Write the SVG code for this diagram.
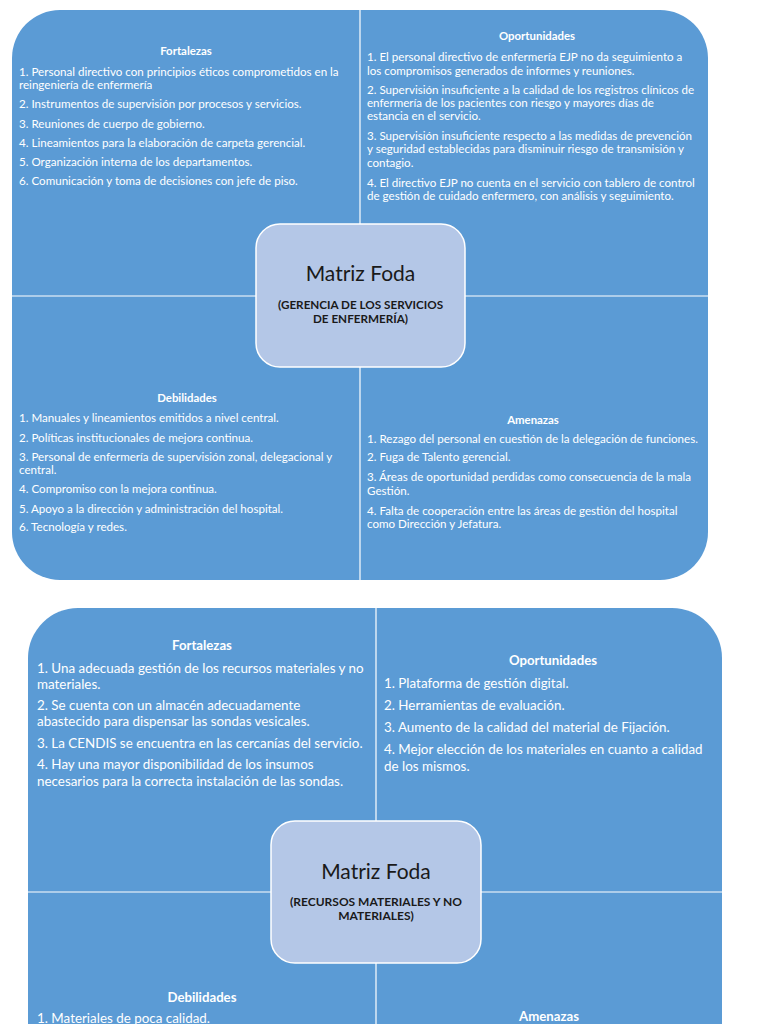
<svg xmlns="http://www.w3.org/2000/svg" width="768" height="1024" viewBox="0 0 768 1024">
<style>
.q{fill:#5B9BD5}
.div{stroke:#FFFFFF;stroke-width:1.2;fill:none}
.cb{fill:#B4C7E7;stroke:#FFFFFF;stroke-width:1.5}
.t1{font-family:Lato,"Open Sans",sans-serif;font-size:11.6px;fill:#FFFFFF}
.h1{font-family:Lato,"Open Sans",sans-serif;font-size:11.4px;font-weight:bold;fill:#FFFFFF;text-anchor:middle}
.t2{font-family:Lato,"Open Sans",sans-serif;font-size:13.4px;fill:#FFFFFF}
.h2{font-family:Lato,"Open Sans",sans-serif;font-size:13.2px;font-weight:bold;fill:#FFFFFF;text-anchor:middle}
.mt{font-family:Lato,"Open Sans",sans-serif;font-size:21px;fill:#1A1A1A;text-anchor:middle}
.ms{font-family:Lato,"Open Sans",sans-serif;font-size:11.7px;font-weight:bold;fill:#1A1A1A;text-anchor:middle}
.ms2{font-family:Lato,"Open Sans",sans-serif;font-size:12px;font-weight:bold;fill:#1A1A1A;text-anchor:middle}
</style>
<rect width="768" height="1024" fill="#FFFFFF"/>

<!-- Matrix 1 -->
<g id="m1-fortalezas">
<path class="q" d="M360,10 H60 A48,48 0 0 0 12,58 V296 H360 Z"/>
<text class="h1" x="186" y="55">Fortalezas</text>
<text class="t1" x="19" y="75.5">1. Personal directivo con principios éticos comprometidos en la</text>
<text class="t1" x="19" y="89">reingeniería de enfermería</text>
<text class="t1" x="19" y="108">2. Instrumentos de supervisión por procesos y servicios.</text>
<text class="t1" x="19" y="127.5">3. Reuniones de cuerpo de gobierno.</text>
<text class="t1" x="19" y="146.5">4. Lineamientos para la elaboración de carpeta gerencial.</text>
<text class="t1" x="19" y="165.5">5. Organización interna de los departamentos.</text>
<text class="t1" x="19" y="185">6. Comunicación y toma de decisiones con jefe de piso.</text>
</g>
<g id="m1-oportunidades">
<path class="q" d="M360,10 H660 A48,48 0 0 1 708,58 V296 H360 Z"/>
<text class="h1" x="537" y="40">Oportunidades</text>
<text class="t1" x="367" y="61">1. El personal directivo de enfermería EJP no da seguimiento a</text>
<text class="t1" x="367" y="75">los compromisos generados de informes y reuniones.</text>
<text class="t1" x="367" y="93.5">2. Supervisión insuficiente a la calidad de los registros clínicos de</text>
<text class="t1" x="367" y="107">enfermería de los pacientes con riesgo y mayores días de</text>
<text class="t1" x="367" y="120">estancia en el servicio.</text>
<text class="t1" x="367" y="139.5">3. Supervisión insuficiente respecto a las medidas de prevención</text>
<text class="t1" x="367" y="153">y seguridad establecidas para disminuir riesgo de transmisión y</text>
<text class="t1" x="367" y="167">contagio.</text>
<text class="t1" x="367" y="187">4. El directivo EJP no cuenta en el servicio con tablero de control</text>
<text class="t1" x="367" y="200">de gestión de cuidado enfermero, con análisis y seguimiento.</text>
</g>
<g id="m1-debilidades">
<path class="q" d="M12,296 H360 V580 H60 A48,48 0 0 1 12,532 Z"/>
<text class="h1" x="187" y="402">Debilidades</text>
<text class="t1" x="19" y="421.5">1. Manuales y lineamientos emitidos a nivel central.</text>
<text class="t1" x="19" y="441.5">2. Políticas institucionales de mejora continua.</text>
<text class="t1" x="19" y="461">3. Personal de enfermería de supervisión zonal, delegacional y</text>
<text class="t1" x="19" y="474">central.</text>
<text class="t1" x="19" y="492.5">4. Compromiso con la mejora continua.</text>
<text class="t1" x="19" y="512.5">5. Apoyo a la dirección y administración del hospital.</text>
<text class="t1" x="19" y="531">6. Tecnología y redes.</text>
</g>
<g id="m1-amenazas">
<path class="q" d="M360,296 H708 V532 A48,48 0 0 1 660,580 H360 Z"/>
<text class="h1" x="533" y="424">Amenazas</text>
<text class="t1" x="367" y="442.5">1. Rezago del personal en cuestión de la delegación de funciones.</text>
<text class="t1" x="367" y="461">2. Fuga de Talento gerencial.</text>
<text class="t1" x="367" y="481">3. Áreas de oportunidad perdidas como consecuencia de la mala</text>
<text class="t1" x="367" y="494.5">Gestión.</text>
<text class="t1" x="367" y="514.5">4.  Falta de cooperación entre las áreas de gestión del hospital</text>
<text class="t1" x="367" y="528">como Dirección y Jefatura.</text>
</g>

<!-- Matrix 2 -->
<g id="m2-fortalezas">
<path class="q" d="M376,608 H78 A50,50 0 0 0 28,658 V892 H376 Z"/>
<text class="h2" x="202" y="650">Fortalezas</text>
<text class="t2" x="37" y="673">1. Una adecuada gestión de los recursos materiales y no</text>
<text class="t2" x="37" y="689">materiales.</text>
<text class="t2" x="37" y="710">2. Se cuenta con un almacén adecuadamente</text>
<text class="t2" x="37" y="726">abastecido para dispensar las sondas vesicales.</text>
<text class="t2" x="37" y="748">3. La CENDIS se encuentra en las cercanías del servicio.</text>
<text class="t2" x="37" y="769">4. Hay una mayor disponibilidad de los insumos</text>
<text class="t2" x="37" y="786">necesarios para la correcta instalación de las sondas.</text>
</g>
<g id="m2-oportunidades">
<path class="q" d="M376,608 H672 A50,50 0 0 1 722,658 V892 H376 Z"/>
<text class="h2" x="553" y="665">Oportunidades</text>
<text class="t2" x="384" y="687.5">1. Plataforma de gestión digital.</text>
<text class="t2" x="384" y="709.5">2. Herramientas de evaluación.</text>
<text class="t2" x="384" y="731.5">3. Aumento de la calidad del material de Fijación.</text>
<text class="t2" x="384" y="753.5">4. Mejor elección de los materiales en cuanto a calidad</text>
<text class="t2" x="384" y="770.5">de los mismos.</text>
</g>
<g id="m2-debilidades">
<path class="q" d="M28,892 H376 V1040 H28 Z"/>
<text class="h2" x="202" y="1002">Debilidades</text>
<text class="t2" x="37" y="1023">1. Materiales de poca calidad.</text>
</g>
<g id="m2-amenazas">
<path class="q" d="M376,892 H722 V1040 H376 Z"/>
<text class="h2" x="549" y="1021">Amenazas</text>
</g>

<g id="connectors">
<line class="div" x1="360" y1="10" x2="360" y2="580"/>
<line class="div" x1="12" y1="296" x2="708" y2="296"/>
<line class="div" x1="376" y1="608" x2="376" y2="1024"/>
<line class="div" x1="28" y1="892" x2="722" y2="892"/>
</g>

<g id="m1-center">
<rect class="cb" x="256" y="224" width="209" height="143" rx="24"/>
<text class="mt" x="360.5" y="281">Matriz Foda</text>
<text class="ms" x="360.5" y="309">(GERENCIA DE LOS SERVICIOS</text>
<text class="ms" x="360.5" y="323">DE ENFERMERÍA)</text>
</g>
<g id="m2-center">
<rect class="cb" x="271" y="821" width="210" height="142" rx="24"/>
<text class="mt" x="376" y="879">Matriz Foda</text>
<text class="ms2" x="376" y="906">(RECURSOS MATERIALES Y NO</text>
<text class="ms2" x="376" y="920">MATERIALES)</text>
</g>
</svg>
